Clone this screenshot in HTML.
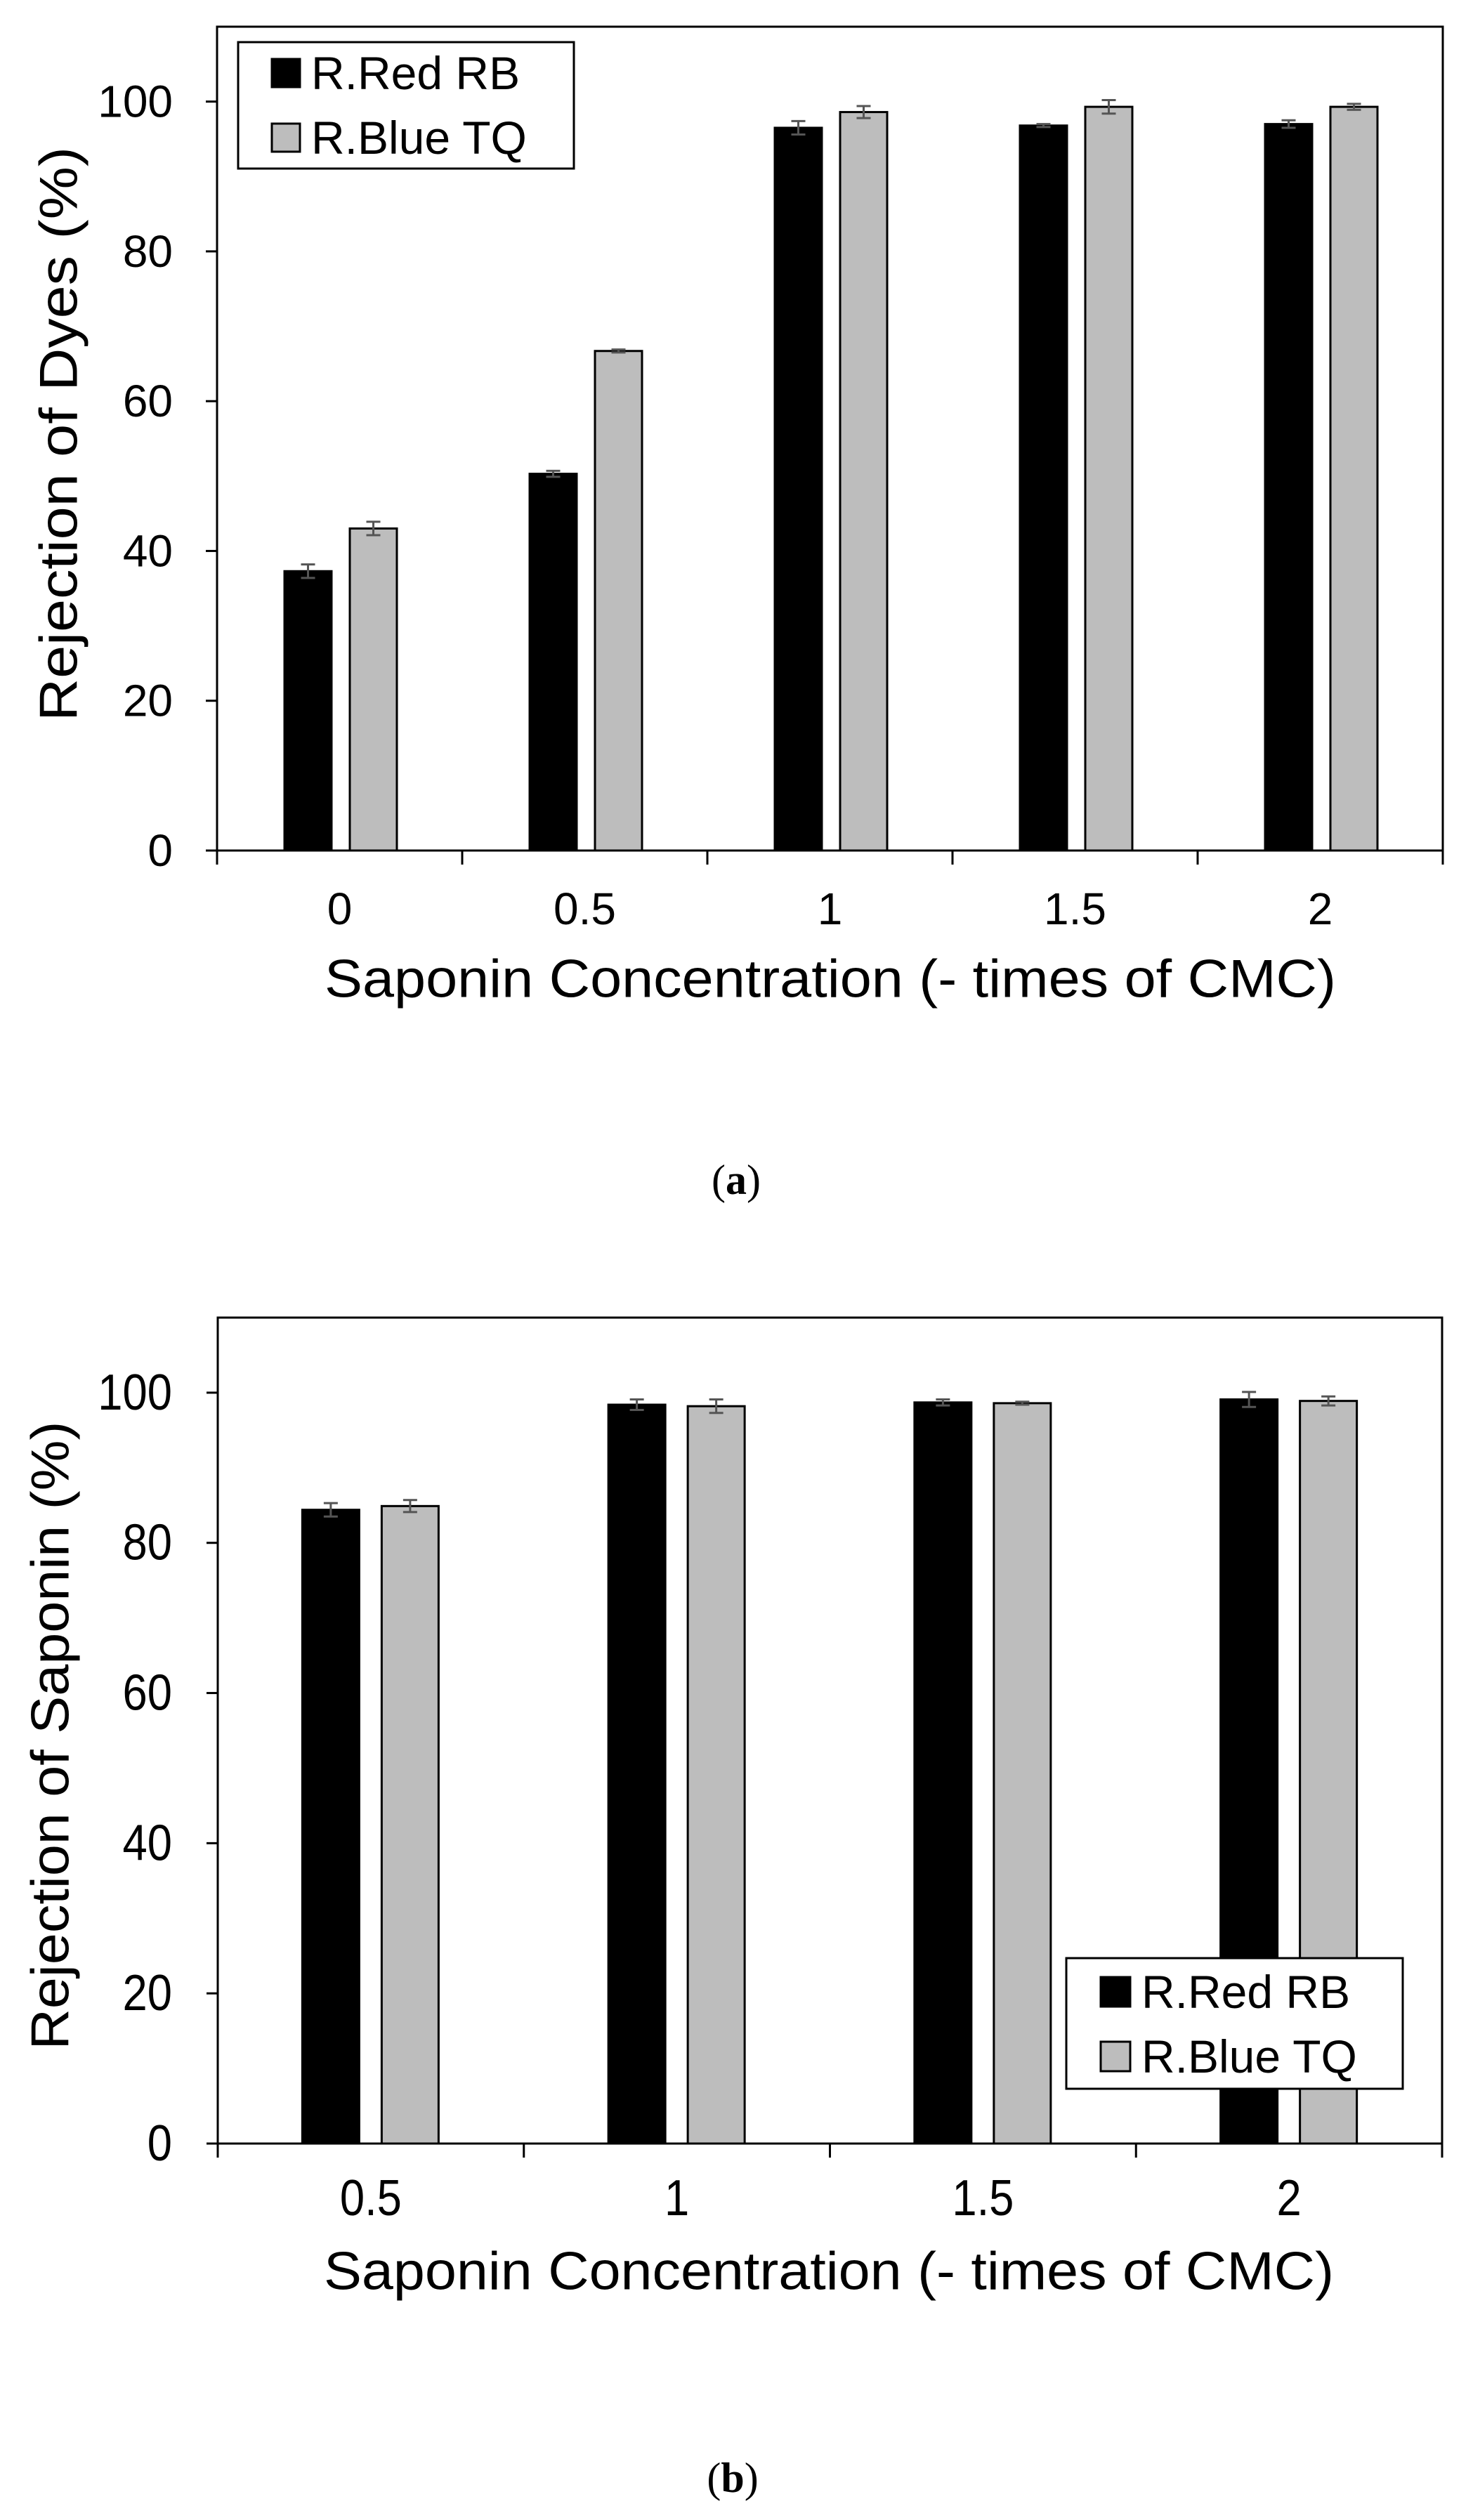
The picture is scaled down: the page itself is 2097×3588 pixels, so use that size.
<!DOCTYPE html>
<html><head><meta charset="utf-8"><style>
html,body{margin:0;padding:0;background:#fff}
svg{display:block}
text{font-family:"Liberation Sans",Arial,sans-serif;fill:#000}
</style></head><body>
<svg id="fig" width="2097" height="3588" viewBox="0 0 2097 3588" xmlns="http://www.w3.org/2000/svg"></svg>
<script>
const NS="http://www.w3.org/2000/svg";
const catsA=["0","0.5","1","1.5","2"];
const redA=[37.3,50.3,96.5,96.8,97.0];
const blueA=[43.0,66.7,98.6,99.3,99.3];
const redErrA=[0.9,0.4,0.9,0.2,0.5];
const blueErrA=[0.9,0.2,0.8,0.9,0.4];
const catsB=["0.5","1","1.5","2"];
const redB=[84.4,98.4,98.7,99.1];
const blueB=[84.9,98.2,98.6,98.9];
const redErrB=[0.9,0.7,0.4,1.0];
const blueErrB=[0.8,0.9,0.2,0.6];
const yTicks=[0,20,40,60,80,100];
const seriesNames=["R.Red RB","R.Blue TQ"];

const svg=document.getElementById('fig');
function el(tag,attrs,parent,txt){const e=document.createElementNS(NS,tag);for(const k in attrs)e.setAttribute(k,attrs[k]);if(txt!==undefined)e.textContent=txt;(parent||svg).appendChild(e);return e;}

function panel(cfg){
  const g=el('g',{});
  
  
  const {L,R,T,B0,ymax}=cfg;
  const y=v=>B0-(v/ymax)*(B0-T);
  const n=cfg.cats.length, cw=(R-L)/n;
  const x=i=>L+cw*(i+0.5);
  const sx=cfg.sx||1;
  const fr=el('rect',{x:L,y:T,width:R-L,height:B0-T,fill:'none',stroke:'#000','stroke-width':3},g);
  
  
  yTicks.forEach(v=>{
    el('line',{x1:L-16,x2:L,y1:y(v),y2:y(v),stroke:'#000','stroke-width':3},g);
    const t=el('text',{x:0,y:0,transform:`translate(${cfg.ytx},${y(v)}) scale(${sx},1)`,'text-anchor':'end','dominant-baseline':'central','font-size':cfg.tickFs},g,String(v));
    
    
  });
  for(let i=0;i<=n;i++) el('line',{x1:L+cw*i,x2:L+cw*i,y1:B0,y2:B0+20,stroke:'#000','stroke-width':3},g);
  cfg.cats.forEach((c,i)=>{
    const t=el('text',{x:0,y:0,transform:`translate(${x(i)},${cfg.xly}) scale(${sx},1)`,'text-anchor':'middle','dominant-baseline':'central','font-size':cfg.tickFs},g,c);
    
    
  });
  const series=[[cfg.red,cfg.redErr,'#000',cfg.offR],[cfg.blue,cfg.blueErr,'#bdbdbd',cfg.offB]];
  series.forEach((s,si)=>{
    s[0].forEach((v,i)=>{
      const cx=x(i)+s[3];
      const b=el('rect',{x:cx-cfg.bw/2,y:y(v),width:cfg.bw,height:B0-y(v),fill:s[2],stroke:'#000','stroke-width':3},g);
      
      
      const e=s[1][i];
      const eg=el('g',{stroke:'#555','stroke-width':3},g);
      
      
      el('line',{x1:cx,x2:cx,y1:y(v+e),y2:y(v-e)},eg);
      el('line',{x1:cx-10,x2:cx+10,y1:y(v+e),y2:y(v+e)},eg);
      el('line',{x1:cx-10,x2:cx+10,y1:y(v-e),y2:y(v-e)},eg);
    });
  });
  const yt=el('text',{x:0,y:0,transform:`translate(${cfg.ytitleX},${cfg.ytitleY}) rotate(-90)`,'text-anchor':'middle','dominant-baseline':'central','font-size':cfg.titleFs,textLength:cfg.ytitleLen,lengthAdjust:'spacingAndGlyphs'},g,cfg.ytitle);
  
  
  const xt=el('text',{x:cfg.xtitleX,y:cfg.xtitleY,'text-anchor':'middle','dominant-baseline':'central','font-size':cfg.titleFs,textLength:cfg.xtitleLen,lengthAdjust:'spacingAndGlyphs'},g,'Saponin Concentration (- times of CMC)');
  
  
  const lg=el('g',{},g);
  
  
  const Lg=cfg.leg;
  el('rect',{x:Lg.x,y:Lg.y,width:Lg.w,height:Lg.h,fill:'#fff',stroke:'#000','stroke-width':3},lg);
  seriesNames.forEach((nm,i)=>{
    const cy=Lg.rows[i];
    const e=el('g',{},lg);
    
    
    el('rect',{x:Lg.sx,y:cy-Lg.ss/2,width:Lg.ss,height:Lg.ss,fill:i?'#bdbdbd':'#000',stroke:'#000','stroke-width':3},e);
    el('text',{x:Lg.tx,y:cy,'dominant-baseline':'central','font-size':Lg.fs},e,nm);
  });
  const cap=el('text',{x:cfg.capX,y:cfg.capY,'text-anchor':'middle','dominant-baseline':'central','font-size':60,style:'font-family:"Liberation Serif",serif'},g);
  
  
  el('tspan',{},cap,'(');el('tspan',{'font-weight':'bold'},cap,cfg.cap);el('tspan',{},cap,')');
}

panel({name:'chart-a',L:309,R:2054,T:38,B0:1211,ymax:110,cats:catsA,red:redA,blue:blueA,redErr:redErrA,blueErr:blueErrA,
  bw:67,offR:-45,offB:48,ytx:246,tickFs:64,xly:1294,titleFs:76,
  ytitle:'Rejection of Dyes  (%)',ytitleX:84,ytitleY:618,ytitleLen:818,
  xtitleX:1182,xtitleY:1394,xtitleLen:1440,
  leg:{x:339,y:60,w:478,h:180,sx:387,ss:40,tx:443,fs:66,rows:[104,196]},
  cap:'a',capX:1048,capY:1680});
panel({name:'chart-b',L:310,R:2053,T:1876,B0:3052,ymax:110,cats:catsB,red:redB,blue:blueB,redErr:redErrB,blueErr:blueErrB,
  bw:81,offR:-57,offB:56,ytx:245,tickFs:72,sx:0.88,xly:3130,titleFs:76,
  ytitle:'Rejection of Saponin  (%)',ytitleX:72,ytitleY:2471,ytitleLen:895,
  xtitleX:1180,xtitleY:3234,xtitleLen:1438,
  leg:{x:1518,y:2788,w:479,h:186,sx:1567,ss:42,tx:1625,fs:66,rows:[2836,2928]},
  cap:'b',capX:1043,capY:3528});
</script>
</body></html>
